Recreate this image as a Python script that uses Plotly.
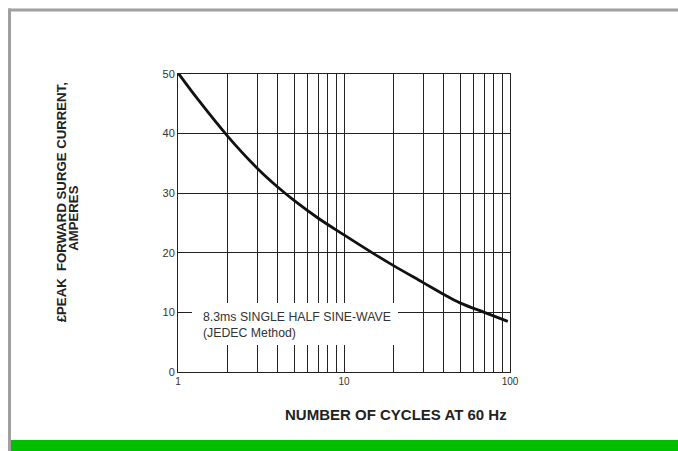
import plotly.graph_objects as go

# Data
cycles = [1, 1.33, 2, 3, 4, 5, 7, 10, 15, 20, 30, 40, 50, 70, 97]
current = [50.2, 45.6, 39.5, 34.2, 31.0, 28.8, 25.8, 23.0, 19.9, 17.8, 15.0, 13.0, 11.6, 10.0, 8.5]

x_grid_vals = [1, 2, 3, 4, 5, 6, 7, 8, 9, 10, 20, 30, 40, 50, 60, 70, 80, 90, 100]
x_tick_text = ["1", "", "", "", "", "", "", "", "", "10", "", "", "", "", "", "", "", "", "100"]
y_tick_vals = [0, 10, 20, 30, 40, 50]

W, H = 678, 451
L, R = 178, 510
T, B = 73.5, 372

def px(x):
    return (x - L) / (R - L)

def py(y):
    return (B - y) / (B - T)

fig = go.Figure()
fig.add_trace(go.Scatter(x=cycles, y=current, mode="lines",
                         line=dict(color="#111111", width=2.8, shape="spline", smoothing=1.0),
                         hoverinfo="skip", showlegend=False))

fig.update_layout(
    width=W, height=H,
    margin=dict(l=L, r=W - R, t=T, b=H - B),
    paper_bgcolor="white", plot_bgcolor="white",
    font=dict(family="Liberation Sans, Arial, sans-serif", color="#333333", size=10),
    xaxis=dict(type="log", range=[0, 2], tickvals=x_grid_vals, ticktext=x_tick_text,
               showgrid=True, gridcolor="#222222", gridwidth=1,
               showline=True, linecolor="#222222", linewidth=1, mirror=True,
               ticks="", zeroline=False, tickfont=dict(size=10, color="#333333")),
    yaxis=dict(range=[0, 50], tickvals=y_tick_vals,
               showgrid=True, gridcolor="#222222", gridwidth=1,
               showline=True, linecolor="#222222", linewidth=1, mirror=True,
               ticks="", zeroline=False, tickfont=dict(size=11, color="#333333")),
    shapes=[
        dict(type="rect", xref="paper", yref="paper", x0=px(192), x1=px(398), y0=py(345), y1=py(303),
             fillcolor="white", line=dict(width=0), layer="above"),
        dict(type="line", xref="paper", yref="paper", x0=px(9.5), x1=px(9.5), y0=py(8), y1=py(452),
             line=dict(color="#A0A0A0", width=3)),
        dict(type="line", xref="paper", yref="paper", x0=px(8), x1=px(680), y0=py(9.5), y1=py(9.5),
             line=dict(color="#A0A0A0", width=3)),
        dict(type="rect", xref="paper", yref="paper", x0=px(11), x1=px(680), y0=py(452), y1=py(440),
             fillcolor="#00BE00", line=dict(width=0)),
    ],
    annotations=[
        dict(xref="paper", yref="paper", x=px(201), y=py(324.5), xanchor="left", yanchor="middle",
             text="8.3ms SINGLE HALF SINE-WAVE<br>(JEDEC Method)", showarrow=False, align="left",
             font=dict(size=12.3, color="#333333")),
        dict(xref="paper", yref="paper", x=px(61.5), y=py(202.5), xanchor="center", yanchor="middle",
             text="<b>£PEAK  FORWARD SURGE CURRENT,</b>", showarrow=False, textangle=-90,
             font=dict(size=13.2, color="#222222")),
        dict(xref="paper", yref="paper", x=px(73.5), y=py(218), xanchor="center", yanchor="middle",
             text="<b>AMPERES</b>", showarrow=False, textangle=-90,
             font=dict(size=13.2, color="#222222")),
        dict(xref="paper", yref="paper", x=px(396), y=py(414.5), xanchor="center", yanchor="middle",
             text="<b>NUMBER OF CYCLES AT 60 Hz</b>", showarrow=False,
             font=dict(size=15, color="#222222")),
    ],
)

fig.write_html("out.html", config={"displayModeBar": False},
               post_script="document.body.style.margin='0';")
